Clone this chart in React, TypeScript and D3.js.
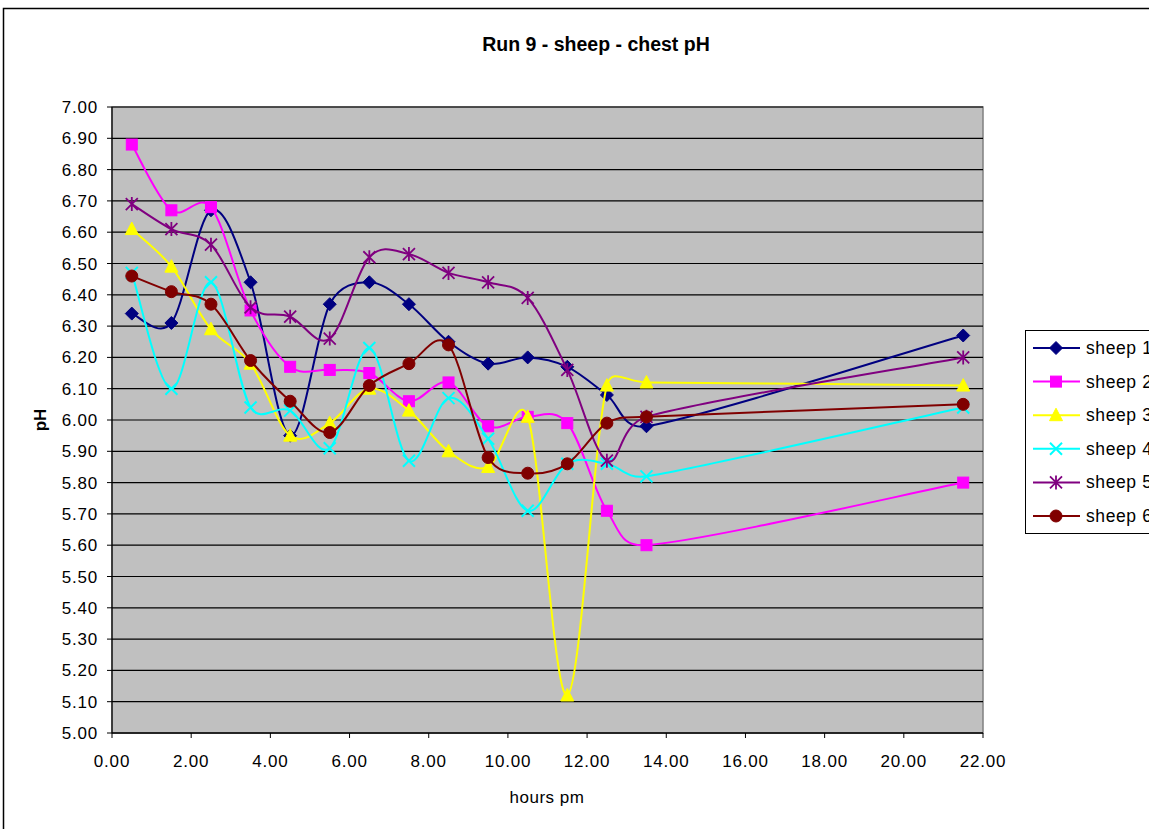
import React from "react";
import * as d3 from "d3";

const hours = [0.5, 1.5, 2.5, 3.5, 4.5, 5.5, 6.5, 7.5, 8.5, 9.5, 10.5, 11.5, 12.5, 13.5, 21.5];
const sheep1 = [6.34, 6.31, 6.67, 6.44, 5.95, 6.37, 6.44, 6.37, 6.25, 6.18, 6.2, 6.17, 6.08, 5.98, 6.27];
const sheep2 = [6.88, 6.67, 6.68, 6.35, 6.17, 6.16, 6.15, 6.06, 6.12, 5.98, 6.01, 5.99, 5.71, 5.6, 5.8];
const sheep3 = [6.61, 6.49, 6.29, 6.18, 5.95, 5.99, 6.1, 6.03, 5.9, 5.85, 6.01, 5.12, 6.11, 6.12, 6.11];
const sheep4 = [6.47, 6.1, 6.44, 6.04, 6.03, 5.91, 6.23, 5.87, 6.07, 5.94, 5.71, 5.86, 5.86, 5.82, 6.04];
const sheep5 = [6.69, 6.61, 6.56, 6.36, 6.33, 6.26, 6.52, 6.53, 6.47, 6.44, 6.39, 6.16, 5.87, 6.01, 6.2];
const sheep6 = [6.46, 6.41, 6.37, 6.19, 6.06, 5.96, 6.11, 6.18, 6.24, 5.88, 5.83, 5.86, 5.99, 6.01, 6.05];

const seriesNames = ["sheep 1", "sheep 2", "sheep 3", "sheep 4", "sheep 5", "sheep 6"];
const seriesValues = [sheep1, sheep2, sheep3, sheep4, sheep5, sheep6];
const seriesColors = ["#000080", "#FF00FF", "#FFFF00", "#00FFFF", "#800080", "#800000"];
const seriesMarkers = ["diamond", "square", "triangle", "x", "star", "circle"];

const xTicks = [0, 2, 4, 6, 8, 10, 12, 14, 16, 18, 20, 22];
const yTicks = d3.range(0, 21).map((i) => +(5 + i * 0.1).toFixed(2));

const W = 1149;
const H = 829;
const plot = { left: 112, right: 983, top: 107, bottom: 733 };
const FONT = "'Liberation Sans', Arial, sans-serif";

// Excel-like smoothed line: Bezier with tangents (P[i+1]-P[i-1]) scaled by 1/6,
// limited so control points never pass half of the adjacent segment.
function smoothPath(pts: [number, number][]): string {
  const p = d3.path();
  const n = pts.length;
  if (n === 0) return "";
  p.moveTo(pts[0][0], pts[0][1]);
  const dist = (a: [number, number], b: [number, number]) => Math.hypot(b[0] - a[0], b[1] - a[1]);
  const tangent = (i: number): [number, number] => {
    const a = pts[Math.max(0, i - 1)];
    const b = pts[Math.min(n - 1, i + 1)];
    return [b[0] - a[0], b[1] - a[1]];
  };
  for (let i = 0; i < n - 1; i++) {
    const a = pts[i];
    const b = pts[i + 1];
    const seg = dist(a, b);
    const ta = tangent(i);
    const tb = tangent(i + 1);
    const la = Math.hypot(ta[0], ta[1]) || 1;
    const lb = Math.hypot(tb[0], tb[1]) || 1;
    const sa = Math.min(1 / 6, (0.5 * seg) / la);
    const sb = Math.min(1 / 6, (0.5 * seg) / lb);
    p.bezierCurveTo(a[0] + ta[0] * sa, a[1] + ta[1] * sa, b[0] - tb[0] * sb, b[1] - tb[1] * sb, b[0], b[1]);
  }
  return p.toString();
}

function Marker({ type, x, y, color }: { type: string; x: number; y: number; color: string }) {
  switch (type) {
    case "diamond":
      return <path d={`M${x},${y - 6.5}L${x + 6.5},${y}L${x},${y + 6.5}L${x - 6.5},${y}Z`} fill={color} stroke={color} strokeWidth={1} />;
    case "square":
      return <rect x={x - 5.5} y={y - 5.5} width={11} height={11} fill={color} stroke={color} strokeWidth={1} />;
    case "triangle":
      return <path d={`M${x},${y - 7}L${x + 6.5},${y + 5.5}L${x - 6.5},${y + 5.5}Z`} fill={color} stroke={color} strokeWidth={1} />;
    case "x":
      return (
        <path d={`M${x - 6},${y - 6}L${x + 6},${y + 6}M${x - 6},${y + 6}L${x + 6},${y - 6}`} stroke={color} strokeWidth={2} fill="none" />
      );
    case "star":
      return (
        <path
          d={`M${x - 6},${y - 6}L${x + 6},${y + 6}M${x - 6},${y + 6}L${x + 6},${y - 6}M${x},${y - 7}L${x},${y + 7}`}
          stroke={color}
          strokeWidth={1.8}
          fill="none"
        />
      );
    case "circle":
      return <circle cx={x} cy={y} r={6} fill={color} stroke={color} strokeWidth={1} />;
    default:
      return null;
  }
}

export default function App() {
  const xScale = d3.scaleLinear().domain([0, 22]).range([plot.left, plot.right]);
  const yScale = d3.scaleLinear().domain([5, 7]).range([plot.bottom, plot.top]);

  const legendX = 1025;
  const legendY = 330;
  const legendRow = 33.6;

  return (
    <svg
      width={W}
      height={H}
      style={{ position: "absolute", left: 0, top: 0, background: "#fff" }}
      fontFamily={FONT}
    >
      <rect x={0} y={0} width={W} height={H} fill="#fff" />
      <rect x={3.5} y={8.5} width={1300} height={900} fill="#fff" stroke="#000" strokeWidth={1.5} />
      <text x={596} y={51} textAnchor="middle" fontSize={19.5} fontWeight="bold" fill="#000">
        Run 9 - sheep - chest pH
      </text>

      {/* plot area */}
      <rect
        x={plot.left}
        y={plot.top}
        width={plot.right - plot.left}
        height={plot.bottom - plot.top}
        fill="#C0C0C0"
        stroke="#808080"
        strokeWidth={1.5}
      />
      {yTicks.map((t) => (
        <line key={"g" + t} x1={plot.left} x2={plot.right} y1={yScale(t)} y2={yScale(t)} stroke="#000" strokeWidth={1.2} />
      ))}

      {/* axes */}
      <line x1={plot.left} x2={plot.left} y1={plot.top} y2={plot.bottom} stroke="#000" strokeWidth={1.2} />
      <line x1={plot.left} x2={plot.right} y1={plot.bottom} y2={plot.bottom} stroke="#000" strokeWidth={1.2} />
      {yTicks.map((t) => (
        <g key={"y" + t}>
          <line x1={plot.left - 5} x2={plot.left} y1={yScale(t)} y2={yScale(t)} stroke="#000" />
          <text x={plot.left - 14} y={yScale(t) + 6} textAnchor="end" fontSize={17} letterSpacing={0.8} fill="#000">
            {t.toFixed(2)}
          </text>
        </g>
      ))}
      {xTicks.map((t) => (
        <g key={"x" + t}>
          <line x1={xScale(t)} x2={xScale(t)} y1={plot.bottom} y2={plot.bottom + 5} stroke="#000" />
          <text x={xScale(t)} y={767} textAnchor="middle" fontSize={17} letterSpacing={0.8} fill="#000">
            {t.toFixed(2)}
          </text>
        </g>
      ))}
      <text x={547} y={803} textAnchor="middle" fontSize={17} letterSpacing={0.5} fill="#000">
        hours pm
      </text>
      <text
        transform={`translate(46,420) rotate(-90)`}
        textAnchor="middle"
        fontSize={17}
        fontWeight="bold"
        fill="#000"
      >
        pH
      </text>

      {/* series */}
      {seriesValues.map((vals, i) => {
        const pts = hours.map((h, j) => [xScale(h), yScale(vals[j])] as [number, number]);
        return (
          <g key={"s" + i}>
            <path d={smoothPath(pts)} fill="none" stroke={seriesColors[i]} strokeWidth={2} />
            {pts.map((p, j) => (
              <Marker key={j} type={seriesMarkers[i]} x={p[0]} y={p[1]} color={seriesColors[i]} />
            ))}
          </g>
        );
      })}

      {/* legend */}
      <rect x={legendX + 0.5} y={legendY + 0.5} width={200} height={203} fill="#fff" stroke="#000" strokeWidth={1} />
      {seriesNames.map((n, i) => {
        const cy = legendY + 18 + i * legendRow;
        return (
          <g key={"l" + i}>
            <line x1={1033} x2={1080} y1={cy} y2={cy} stroke={seriesColors[i]} strokeWidth={2} />
            <Marker type={seriesMarkers[i]} x={1056} y={cy} color={seriesColors[i]} />
            <text x={1086} y={cy + 6} fontSize={17.5} letterSpacing={0.6} fill="#000">
              {n}
            </text>
          </g>
        );
      })}
    </svg>
  );
}
